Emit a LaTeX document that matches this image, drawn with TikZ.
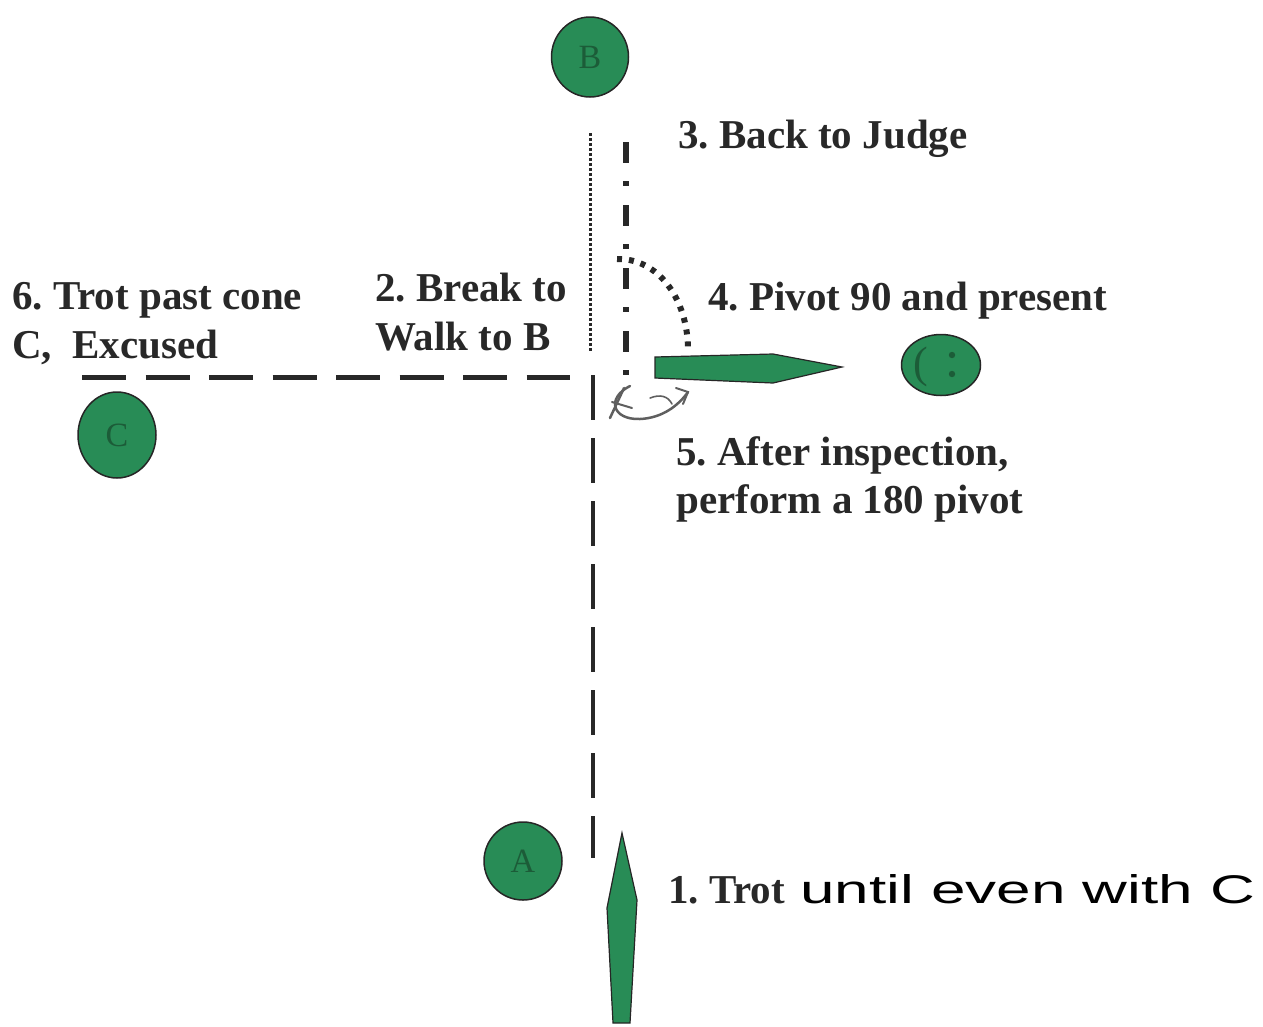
\documentclass[tikz,border=0pt]{standalone}
\usepackage{fontspec}
\setmainfont{Liberation Serif}
\newfontfamily\handfont{Liberation Sans}
\usetikzlibrary{arrows.meta,shapes.geometric}
\definecolor{cone}{RGB}{40,140,86}
\definecolor{conetxt}{RGB}{28,92,56}
\definecolor{ink}{RGB}{40,40,40}
\definecolor{scribble}{RGB}{95,95,95}
\tikzset{
  conebox/.style={ellipse, draw=black!85, line width=1.5pt, fill=cone, text=conetxt, inner sep=0pt, font=\fontsize{34}{34}\selectfont},
  lbl/.style={anchor=base west, inner sep=0pt, text=ink, font=\frenchspacing\fontsize{41}{50}\selectfont\bfseries},
  pointer/.style={draw=black!85, line width=1.2pt, fill=cone},
}
\begin{document}
\begin{tikzpicture}[x=1pt,y=-1pt]
\useasboundingbox (0,0) rectangle (1263,1026);
% cones
\node[conebox, minimum width=77pt, minimum height=80pt] (B) at (590,57) {B};
\node[conebox, minimum width=78pt, minimum height=86pt] (C) at (117,435) {C};
\node[conebox, minimum width=78pt, minimum height=78pt] (A) at (523,861) {A};
\node[conebox, minimum width=79pt, minimum height=61pt] (J) at (941,365) {};
\node[text=conetxt, inner sep=0pt, font=\fontsize{44}{44}\selectfont] (Jm) at (921,367) {(};
\fill[conetxt] (952,355) circle (3.2pt) (952,374) circle (3.2pt);
% path coordinates
\coordinate (dtT) at (590,133); \coordinate (dtB) at (590,352);
\coordinate (ddT) at (626,142); \coordinate (ddB) at (626,378);
\coordinate (hL) at (82,377); \coordinate (hR) at (570,377);
\coordinate (vT) at (593,375); \coordinate (vB) at (593,858);
\coordinate (arcS) at (617,259); \coordinate (arcE) at (688,350);
% lines
\draw[ink, line width=3pt, dash pattern=on 3pt off 2pt] (dtT) -- (dtB);
\draw[ink, line width=5.5pt, dash pattern=on 21pt off 18pt on 5pt off 19pt] (ddT) -- (ddB);
\draw[ink, line width=5pt, dash pattern=on 44pt off 19.5pt] (hL) -- (hR);
\draw[ink, line width=4.5pt, dash pattern=on 45pt off 18pt] (vT) -- (vB);
\draw[ink, line width=6pt, dash pattern=on 5pt off 7pt] (arcS) .. controls (658,258) and (688,299) .. (arcE);
% pointers
\draw[pointer] (655,357) -- (773,354) -- (842,367) -- (773,383) -- (655,378) -- cycle;
\draw[pointer] (622,833) -- (637,900) -- (630,1023) -- (613,1023) -- (607,908) -- cycle;
% pivot scribble
\draw[scribble, line width=2.5pt, line cap=round] (630,386) .. controls (606,398) and (612,420) .. (640,419) .. controls (662,418) and (678,406) .. (688,392);
\draw[scribble, line width=2pt, line cap=round] (676,388) -- (688,392) -- (683,404);
\draw[scribble, line width=2.5pt, line cap=round] (610,418) -- (624,388);
\draw[scribble, line width=2pt, line cap=round] (612,402) -- (632,408);
\draw[scribble, line width=1.6pt, line cap=round] (650,398) .. controls (660,394) and (668,396) .. (672,404);
% labels
\node[lbl] (t3) at (678,148) {3. Back to Judge};
\node[lbl] (t2a) at (375,301) {2. Break to};
\node[lbl] (t2b) at (375,350) {Walk to B};
\node[lbl] (t6a) at (12,309) {6. Trot past cone};
\node[lbl] (t6b) at (12,358) {C,\ \ Excused};
\node[lbl] (t4) at (708,310) {4. Pivot 90 and present};
\node[lbl] (t5a) at (676,465) {5. After inspection,};
\node[lbl] (t5b) at (676,513) {perform a 180 pivot};
\node[lbl] (t1) at (668,903) {1. Trot};
\node[anchor=base west, inner sep=0pt, text=black, xscale=1.55, font=\handfont\fontsize{40}{40}\selectfont] (t1h) at (800,903) {until even with C};
\end{tikzpicture}
\end{document}
